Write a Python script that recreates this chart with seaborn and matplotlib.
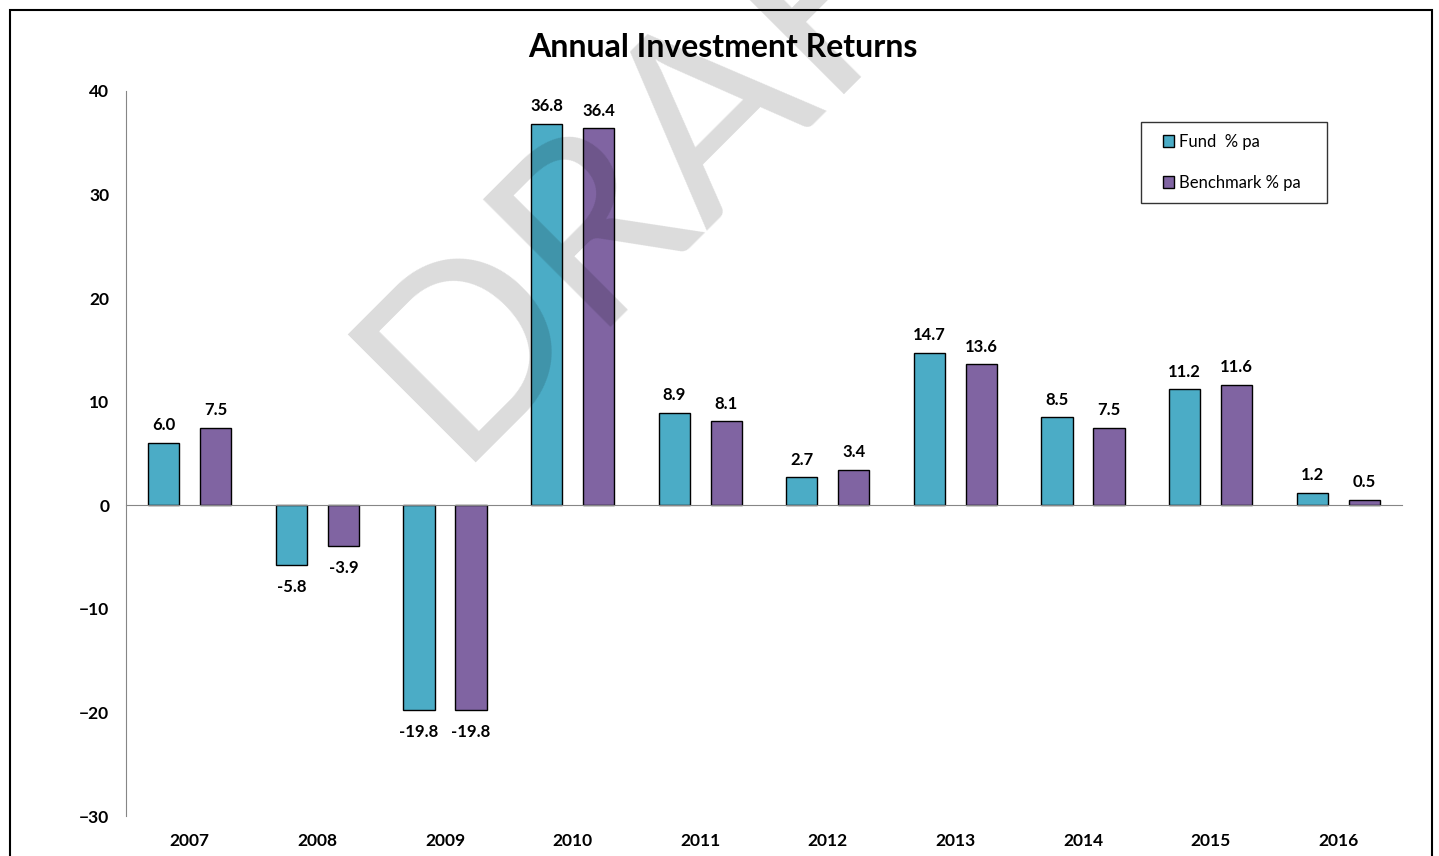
import matplotlib
matplotlib.use('Agg')
import numpy as np
import pandas as pd
import matplotlib.pyplot as plt
import seaborn as sns
from matplotlib.patches import Rectangle
from matplotlib.legend_handler import HandlerPatch

# Dados
years = ['2007', '2008', '2009', '2010', '2011', '2012', '2013', '2014', '2015', '2016']
fund = [6.0, -5.8, -19.8, 36.8, 8.9, 2.7, 14.7, 8.5, 11.2, 1.2]
benchmark = [7.5, -3.9, -19.8, 36.4, 8.1, 3.4, 13.6, 7.5, 11.6, 0.5]
series_names = ['Fund  % pa', 'Benchmark % pa']
colors = ['#4BACC6', '#8064A2']
y_ticks = [-30, -20, -10, 0, 10, 20, 30, 40]

df = pd.DataFrame({
    'year': years * 2,
    'value': fund + benchmark,
    'series': [series_names[0]] * len(years) + [series_names[1]] * len(years),
})

sns.set_style('white')
plt.rcParams['font.family'] = ['Lato', 'DejaVu Sans']
plt.rcParams['text.color'] = 'black'
plt.rcParams['ytick.labelcolor'] = 'black'

fig = plt.figure(figsize=(14.39, 8.56), dpi=100)
ax = fig.add_axes([0.0876, 0.0467, 0.8867, 0.8470])

sns.barplot(data=df, x='year', y='value', hue='series', palette=colors,
            saturation=1, edgecolor='black', linewidth=1,
            width=0.815, gap=0.4, ax=ax)

# Rotulos dos valores (positivos acima, negativos abaixo)
for c in ax.containers:
    vals = c.datavalues
    ax.bar_label(c, labels=['%.1f' % v if v >= 0 else '' for v in vals],
                 padding=7, fontsize=12, fontweight='bold', color='black')
    ax.bar_label(c, labels=['%.1f' % v if v < 0 else '' for v in vals],
                 padding=10, fontsize=12, fontweight='bold', color='black')

# Eixos
ax.set_ylim(-30, 40)
ax.set_yticks(y_ticks)
ax.set_xlim(-0.5, len(years) - 0.5)
ax.set_xticks(np.arange(-0.5, len(years), 1))
ax.set_xticklabels([])
ax.set_xlabel('')
ax.set_ylabel('')

axis_gray = '#868686'
for s in ['top', 'right']:
    ax.spines[s].set_visible(False)
ax.spines['left'].set_color(axis_gray)
ax.spines['bottom'].set_color(axis_gray)
ax.spines['bottom'].set_position(('data', 0))
ax.tick_params(axis='y', direction='out', length=5, color=axis_gray, pad=7,
               labelsize=12.5, labelcolor='black')
ax.tick_params(axis='x', direction='out', length=8, color=axis_gray)
for lbl in ax.get_yticklabels():
    lbl.set_fontweight('bold')

for i, y in enumerate(years):
    ax.text(i, -0.035, y, transform=ax.get_xaxis_transform(), ha='center',
            va='center', fontsize=12.5, fontweight='bold', color='black')

# Legenda
def square_patch(legend, orig_handle, xdescent, ydescent, width, height, fontsize):
    return Rectangle((-xdescent + width - height, -ydescent), height, height)

handles, labels = ax.get_legend_handles_labels()
leg = ax.legend(handles, labels, loc='upper left',
                bbox_to_anchor=(0.7955, 0.846, 0.1458, 0.111), mode='expand',
                borderaxespad=0, frameon=True, fancybox=False, edgecolor='black',
                fontsize=12, handlelength=1.3, handleheight=0.65,
                handletextpad=0.25, labelspacing=1.5, borderpad=0.7,
                handler_map={Rectangle: HandlerPatch(patch_func=square_patch)})
leg.get_frame().set_linewidth(1)
for t in leg.get_texts():
    t.set_color('black')

# Titulo
fig.text(0.502, 0.945, 'Annual Investment Returns', ha='center', va='center',
         fontsize=23, fontweight='bold', color='black')

# Marca d'agua
fig.text(0.3155, 0.459, 'DRAFT', rotation=45, rotation_mode='anchor',
         ha='left', va='baseline', fontsize=182, fontweight='normal',
         color='black', alpha=0.14)

# Moldura
fig.add_artist(Rectangle((10 / 1439, -0.05), 1422 / 1439, 1.05 - 10 / 856,
                         transform=fig.transFigure, fill=False,
                         edgecolor='black', linewidth=1.5, clip_on=False))

fig.savefig('out.png', dpi=100)
